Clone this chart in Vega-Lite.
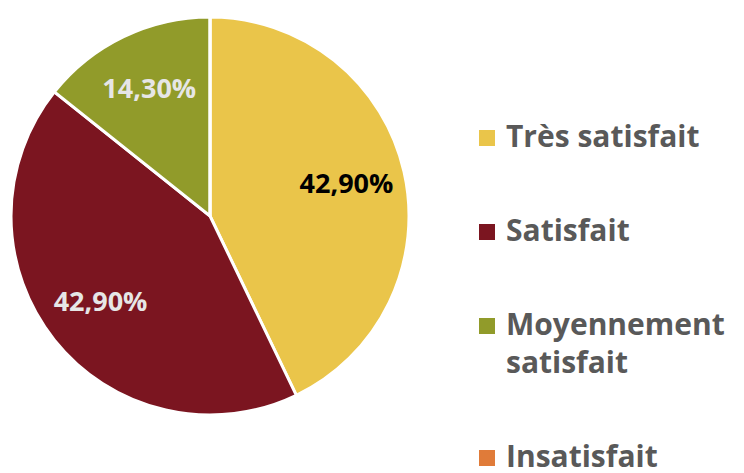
{
  "$schema": "https://vega.github.io/schema/vega-lite/v6.json",
  "width": 398,
  "height": 398,
  "padding": {"left": 5, "top": 11, "right": 0, "bottom": 0},
  "background": "white",
  "config": {"style": {"guide-label": {"lineHeight": 38}}},
  "data": {
    "values": [
      {"cat": "Très satisfait", "val": 42.9, "label": "42,90%", "o": 1},
      {"cat": "Satisfait", "val": 42.9, "label": "42,90%", "o": 2},
      {"cat": "Moyennement satisfait", "val": 14.3, "label": "14,30%", "o": 3},
      {"cat": "Insatisfait", "val": 0, "label": "", "o": 4}
    ]
  },
  "encoding": {
    "theta": {"field": "val", "type": "quantitative", "stack": true},
    "order": {"field": "o", "type": "quantitative"}
  },
  "layer": [
    {
      "mark": {"type": "arc", "stroke": "white", "strokeWidth": 3},
      "encoding": {
        "color": {
          "field": "cat",
          "type": "nominal",
          "scale": {
            "domain": ["Très satisfait", "Satisfait", "Moyennement satisfait", "Insatisfait"],
            "range": ["#EAC54A", "#7B1520", "#919B2A", "#E07B39"]
          },
          "legend": {
            "title": null,
            "orient": "none",
            "legendX": 461,
            "legendY": 106,
            "symbolType": "square",
            "symbolSize": 256,
            "symbolStrokeWidth": 0,
            "labelFont": "Open Sans",
            "labelFontWeight": "bold",
            "labelFontSize": 30,
            "labelColor": "#595959",
            "labelLimit": 0,
            "labelOffset": 4,
            "rowPadding": 64,
            "labelExpr": "datum.label == 'Moyennement satisfait' ? ['Moyennement', 'satisfait'] : datum.label"
          }
        }
      }
    },
    {
      "transform": [{"filter": "datum.val > 0"}],
      "mark": {"type": "text", "radius": 140, "font": "Open Sans", "fontWeight": "bold", "fontSize": 27},
      "encoding": {
        "text": {"field": "label"},
        "color": {
          "condition": {"test": "datum.o == 1", "value": "#000000"},
          "value": "#E6E6E6"
        }
      }
    }
  ]
}
